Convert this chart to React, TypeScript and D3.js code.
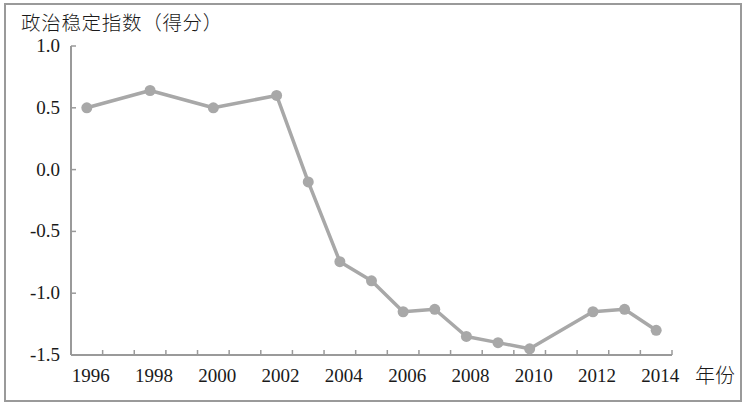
import React, { useRef, useEffect } from 'react';
import * as d3 from 'd3';

const years = [
  '1996', '1997', '1998', '1999', '2000', '2001', '2002', '2003', '2004', '2005',
  '2006', '2007', '2008', '2009', '2010', '2011', '2012', '2013', '2014',
];
// null = no observation that year (line joins across)
const scores: (number | null)[] = [
  0.5, null, 0.64, null, 0.5, null, 0.6, -0.1, -0.745, -0.9,
  -1.15, -1.13, -1.35, -1.4, -1.45, null, -1.15, -1.13, -1.3,
];
const yTicks = [1.0, 0.5, 0.0, -0.5, -1.0, -1.5];
const xLabels = ['1996', '1998', '2000', '2002', '2004', '2006', '2008', '2010', '2012', '2014'];

const App: React.FC = () => {
  const svgRef = useRef<SVGSVGElement>(null);

  useEffect(() => {
    const width = 750;
    const height = 410;
    const margin = { top: 46, right: 78, bottom: 55, left: 71 };

    const svg = d3.select(svgRef.current).attr('width', width).attr('height', height);
    svg.selectAll('*').remove();

    const axisColor = '#9a9a9a';
    const lineColor = '#a8a8a8';
    const serif = '"Liberation Serif", "Times New Roman", serif';
    const cjk = '"Noto Sans CJK SC", sans-serif';

    // outer frame
    svg
      .append('rect')
      .attr('x', 5)
      .attr('y', 4)
      .attr('width', 736)
      .attr('height', 397)
      .attr('fill', 'white')
      .attr('stroke', axisColor)
      .attr('stroke-width', 2);

    const xScale = d3
      .scaleBand<string>()
      .domain(years)
      .range([margin.left, width - margin.right])
      .padding(0);

    const yScale = d3
      .scaleLinear()
      .domain([-1.5, 1.0])
      .range([height - margin.bottom, margin.top]);

    const x0 = margin.left;
    const x1 = width - margin.right;
    const yBottom = yScale(-1.5);
    const yTop = yScale(1.0);

    // y axis
    svg
      .append('line')
      .attr('x1', x0)
      .attr('x2', x0)
      .attr('y1', yTop)
      .attr('y2', yBottom)
      .attr('stroke', axisColor)
      .attr('stroke-width', 2);

    svg
      .append('g')
      .selectAll('line')
      .data(yTicks)
      .join('line')
      .attr('x1', x0)
      .attr('x2', x0 + 5)
      .attr('y1', (d) => yScale(d))
      .attr('y2', (d) => yScale(d))
      .attr('stroke', axisColor)
      .attr('stroke-width', 1.5);

    svg
      .append('g')
      .selectAll('text')
      .data(yTicks)
      .join('text')
      .attr('x', x0 - 11)
      .attr('y', (d) => yScale(d) + 6)
      .attr('text-anchor', 'end')
      .attr('font-family', serif)
      .attr('font-size', 19)
      .attr('fill', '#1a1a1a')
      .text((d) => d.toFixed(1));

    // x axis
    svg
      .append('line')
      .attr('x1', x0)
      .attr('x2', x1)
      .attr('y1', yBottom)
      .attr('y2', yBottom)
      .attr('stroke', axisColor)
      .attr('stroke-width', 2);

    const boundaries = years.slice(1).map((y) => xScale(y) as number).concat([x1]);
    svg
      .append('g')
      .selectAll('line')
      .data(boundaries)
      .join('line')
      .attr('x1', (d) => d)
      .attr('x2', (d) => d)
      .attr('y1', yBottom)
      .attr('y2', yBottom - 5)
      .attr('stroke', axisColor)
      .attr('stroke-width', 1.5);

    svg
      .append('g')
      .selectAll('text')
      .data(xLabels)
      .join('text')
      .attr('x', (d) => (xScale(d) as number) + xScale.bandwidth() / 2 + 4)
      .attr('y', yBottom + 27)
      .attr('text-anchor', 'middle')
      .attr('font-family', serif)
      .attr('font-size', 19)
      .attr('fill', '#1a1a1a')
      .text((d) => d);

    svg
      .append('text')
      .attr('x', 715)
      .attr('y', yBottom + 28)
      .attr('text-anchor', 'middle')
      .attr('font-family', cjk)
      .attr('font-size', 20)
      .attr('font-weight', 300)
      .attr('fill', '#1a1a1a')
      .text('年份');

    svg
      .append('text')
      .attr('x', 21)
      .attr('y', 29.5)
      .attr('font-family', cjk)
      .attr('font-size', 19.5)
      .attr('letter-spacing', 0.7)
      .attr('font-weight', 300)
      .attr('fill', '#1a1a1a')
      .text('政治稳定指数（得分）');

    // series
    const points = years
      .map((y, i) => ({ year: y, value: scores[i] }))
      .filter((d) => d.value !== null) as { year: string; value: number }[];

    const cx = (d: { year: string }) => (xScale(d.year) as number) + xScale.bandwidth() / 2;

    const line = d3
      .line<{ year: string; value: number }>()
      .x(cx)
      .y((d) => yScale(d.value));

    svg
      .append('path')
      .datum(points)
      .attr('fill', 'none')
      .attr('stroke', lineColor)
      .attr('stroke-width', 3.5)
      .attr('stroke-linejoin', 'round')
      .attr('d', line);

    svg
      .append('g')
      .selectAll('circle')
      .data(points)
      .join('circle')
      .attr('cx', cx)
      .attr('cy', (d) => yScale(d.value))
      .attr('r', 5.5)
      .attr('fill', lineColor);
  }, []);

  return (
    <div style={{ position: 'absolute', left: 0, top: 0 }}>
      <svg ref={svgRef} style={{ display: 'block' }} />
    </div>
  );
};

export default App;
